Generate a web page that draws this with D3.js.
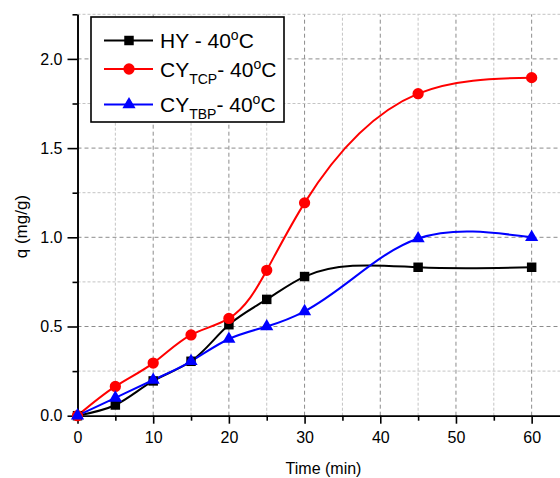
<!DOCTYPE html>
<html>
<head>
<meta charset="utf-8">
<script src="https://cdn.jsdelivr.net/npm/d3@7"></script>
<style>
  body { margin: 0; background: #fff; }
  svg { display: block; font-family: "Liberation Sans", Arial, sans-serif; }
</style>
</head>
<body>
<div id="chart"></div>
<script>
// time points (min)
let times = [0, 5, 10, 15, 20, 25, 30, 45, 60];

// q (mg/g) per series
let hyValues  = [0, 0.06, 0.195, 0.305, 0.51, 0.652, 0.78, 0.832, 0.832];
let tcpValues = [0, 0.164, 0.295, 0.453, 0.545, 0.815, 1.193, 1.805, 1.895];
let tbpValues = [0, 0.10, 0.20, 0.305, 0.43, 0.50, 0.585, 0.993, 1.0];

let xMajorTicks = [0, 10, 20, 30, 40, 50, 60];
let xMinorTicks = [5, 15, 25, 35, 45, 55, 65];
let yMajorTicks = [0, 0.5, 1.0, 1.5, 2.0];
let yMinorTicks = [0.25, 0.75, 1.25, 1.75, 2.25];

let width = 560;
let height = 478;

// natural cubic spline second derivatives for knots t and values v
function splineM(t, v) {
    let n = t.length;
    let h = [], d = [];
    for (let i = 0; i < n - 1; i++) {
        h.push(t[i + 1] - t[i]);
        d.push((v[i + 1] - v[i]) / h[i]);
    }
    // tridiagonal solve (M0 = Mn-1 = 0)
    let a = new Array(n).fill(0), b = new Array(n).fill(1), c = new Array(n).fill(0), r = new Array(n).fill(0);
    for (let i = 1; i < n - 1; i++) {
        a[i] = h[i - 1];
        b[i] = 2 * (h[i - 1] + h[i]);
        c[i] = h[i];
        r[i] = 6 * (d[i] - d[i - 1]);
    }
    for (let i = 1; i < n; i++) {
        let f = a[i] / b[i - 1];
        b[i] -= f * c[i - 1];
        r[i] -= f * r[i - 1];
    }
    let M = new Array(n).fill(0);
    M[n - 1] = r[n - 1] / b[n - 1];
    for (let i = n - 2; i >= 0; i--) M[i] = (r[i] - c[i] * M[i + 1]) / b[i];
    return { h: h, d: d, M: M };
}

// parametric (chord length) natural spline in screen space
function ParamSpline(context) { this._context = context; }
ParamSpline.prototype = {
    areaStart: function() { this._line = 0; },
    areaEnd: function() { this._line = NaN; },
    lineStart: function() { this._x = []; this._y = []; },
    point: function(x, y) { this._x.push(+x); this._y.push(+y); },
    lineEnd: function() {
        let x = this._x, y = this._y, n = x.length, c = this._context;
        if (!n) return;
        c.moveTo(x[0], y[0]);
        if (n < 3) {
            for (let i = 1; i < n; i++) c.lineTo(x[i], y[i]);
            return;
        }
        let t = [0];
        for (let i = 1; i < n; i++) t.push(t[i - 1] + Math.hypot(x[i] - x[i - 1], y[i] - y[i - 1]));
        let sx = splineM(t, x), sy = splineM(t, y);
        for (let i = 0; i < n - 1; i++) {
            let h = sx.h[i];
            let mx0 = sx.d[i] - h * (2 * sx.M[i] + sx.M[i + 1]) / 6;
            let mx1 = sx.d[i] + h * (sx.M[i] + 2 * sx.M[i + 1]) / 6;
            let my0 = sy.d[i] - h * (2 * sy.M[i] + sy.M[i + 1]) / 6;
            let my1 = sy.d[i] + h * (sy.M[i] + 2 * sy.M[i + 1]) / 6;
            c.bezierCurveTo(x[i] + mx0 * h / 3, y[i] + my0 * h / 3,
                            x[i + 1] - mx1 * h / 3, y[i + 1] - my1 * h / 3,
                            x[i + 1], y[i + 1]);
        }
    }
};
let curveParamSpline = function(context) { return new ParamSpline(context); };

let svg = d3.select("#chart")
    .append("svg")
    .attr("width", width)
    .attr("height", height);

let xScale = d3.scaleLinear()
    .domain([0, 65])
    .range([77.5, 569.5]);

let yScale = d3.scaleLinear()
    .domain([0, 2.25])
    .range([415.7, 14.3]);

// grid lines
let grid = svg.append("g").attr("class", "grid");

grid.selectAll("line.vminor")
    .data(xMinorTicks)
    .enter()
    .append("line")
    .attr("x1", d => xScale(d)).attr("x2", d => xScale(d))
    .attr("y1", yScale(0)).attr("y2", yScale(2.25))
    .attr("stroke", "#c4c4c4")
    .attr("stroke-dasharray", "3,2");

grid.selectAll("line.vmajor")
    .data(xMajorTicks.filter(d => d > 0))
    .enter()
    .append("line")
    .attr("x1", d => xScale(d)).attr("x2", d => xScale(d))
    .attr("y1", yScale(0)).attr("y2", yScale(2.25))
    .attr("stroke", "#8c8c8c")
    .attr("stroke-dasharray", "4,3");

grid.selectAll("line.hminor")
    .data(yMinorTicks)
    .enter()
    .append("line")
    .attr("x1", xScale(0)).attr("x2", width)
    .attr("y1", d => yScale(d)).attr("y2", d => yScale(d))
    .attr("stroke", "#c4c4c4")
    .attr("stroke-dasharray", "3,2");

grid.selectAll("line.hmajor")
    .data(yMajorTicks.filter(d => d > 0))
    .enter()
    .append("line")
    .attr("x1", xScale(0)).attr("x2", width)
    .attr("y1", d => yScale(d)).attr("y2", d => yScale(d))
    .attr("stroke", "#8c8c8c")
    .attr("stroke-dasharray", "4,3");

// axes
let xAxis = d3.axisBottom(xScale)
    .tickValues(xMajorTicks)
    .tickSize(8)
    .tickSizeOuter(0)
    .tickPadding(8)
    .tickFormat(d3.format("d"));

let xMinorAxis = d3.axisBottom(xScale)
    .tickValues(xMinorTicks)
    .tickSize(5)
    .tickSizeOuter(0)
    .tickFormat("");

let yAxis = d3.axisLeft(yScale)
    .tickValues(yMajorTicks)
    .tickSize(10)
    .tickSizeOuter(0)
    .tickPadding(5)
    .tickFormat(d3.format(".1f"));

let yMinorAxis = d3.axisLeft(yScale)
    .tickValues(yMinorTicks)
    .tickSize(5)
    .tickSizeOuter(0)
    .tickFormat("");

svg.append("g")
    .attr("class", "axis x-axis")
    .attr("transform", "translate(0," + yScale(0) + ")")
    .call(xMinorAxis);

svg.append("g")
    .attr("class", "axis x-axis")
    .attr("transform", "translate(0," + yScale(0) + ")")
    .call(xAxis);

svg.append("g")
    .attr("class", "axis y-axis")
    .attr("transform", "translate(" + xScale(0) + ",0)")
    .call(yMinorAxis);

svg.append("g")
    .attr("class", "axis y-axis")
    .attr("transform", "translate(" + xScale(0) + ",0)")
    .call(yAxis);

svg.selectAll(".axis path, .axis line")
    .attr("stroke", "#000")
    .attr("stroke-width", 1.6);

svg.selectAll(".axis text")
    .attr("fill", "#000")
    .style("font-size", "16px")
    .style("font-family", "'Liberation Sans', Arial, sans-serif");

// axis titles
svg.append("text")
    .attr("x", xScale(32.5))
    .attr("y", 474)
    .attr("text-anchor", "middle")
    .style("font-size", "16px")
    .text("Time (min)");

svg.append("text")
    .attr("transform", "translate(27," + yScale(1.06) + ") rotate(-90)")
    .attr("text-anchor", "middle")
    .style("font-size", "17px")
    .text("q (mg/g)");

// series
let series = [
    { name: "HY", values: hyValues, color: "#000000", symbol: d3.symbolSquare, size: 90 },
    { name: "TCP", values: tcpValues, color: "#ff0000", symbol: d3.symbolCircle, size: 100 },
    { name: "TBP", values: tbpValues, color: "#0000ff", symbol: d3.symbolTriangle, size: 75 }
];

let line = d3.line()
    .x(d => xScale(d[0]))
    .y(d => yScale(d[1]))
    .curve(curveParamSpline);

series.forEach(function(s) {
    let pts = times.map((t, i) => [t, s.values[i]]);
    svg.append("path")
        .datum(pts)
        .attr("fill", "none")
        .attr("stroke", s.color)
        .attr("stroke-width", 2)
        .attr("d", line);
});

series.forEach(function(s) {
    let pts = times.map((t, i) => [t, s.values[i]]);
    svg.selectAll(null)
        .data(pts)
        .enter()
        .append("path")
        .attr("d", d3.symbol().type(s.symbol).size(s.size))
        .attr("transform", d => "translate(" + xScale(d[0]) + "," + yScale(d[1]) + ")")
        .attr("fill", s.color);
});

// legend
let legend = svg.append("g").attr("class", "legend");

legend.append("rect")
    .attr("x", 91)
    .attr("y", 17)
    .attr("width", 193)
    .attr("height", 105)
    .attr("fill", "#fff")
    .attr("stroke", "#000")
    .attr("stroke-width", 1.6);

let legendRows = [40.5, 69, 104.5];

series.forEach(function(s, i) {
    let y = legendRows[i];
    legend.append("line")
        .attr("x1", 104).attr("x2", 153)
        .attr("y1", y).attr("y2", y)
        .attr("stroke", s.color)
        .attr("stroke-width", 2);
    legend.append("path")
        .attr("d", d3.symbol().type(s.symbol).size(s.size)())
        .attr("transform", "translate(129," + y + ")")
        .attr("fill", s.color);

    let t = legend.append("text")
        .attr("x", 160)
        .attr("y", y + 7.5)
        .style("font-size", "21px");
    if (s.name === "HY") {
        t.append("tspan").text("HY - 40");
    } else {
        t.append("tspan").text("CY");
        t.append("tspan").text(s.name).style("font-size", "14px").attr("dy", 7);
        t.append("tspan").text("- 40").attr("dy", -7);
    }
    t.append("tspan").text("o").style("font-size", "14px").attr("dy", -8);
    t.append("tspan").text("C").attr("dy", 8);
});
</script>
</body>
</html>
